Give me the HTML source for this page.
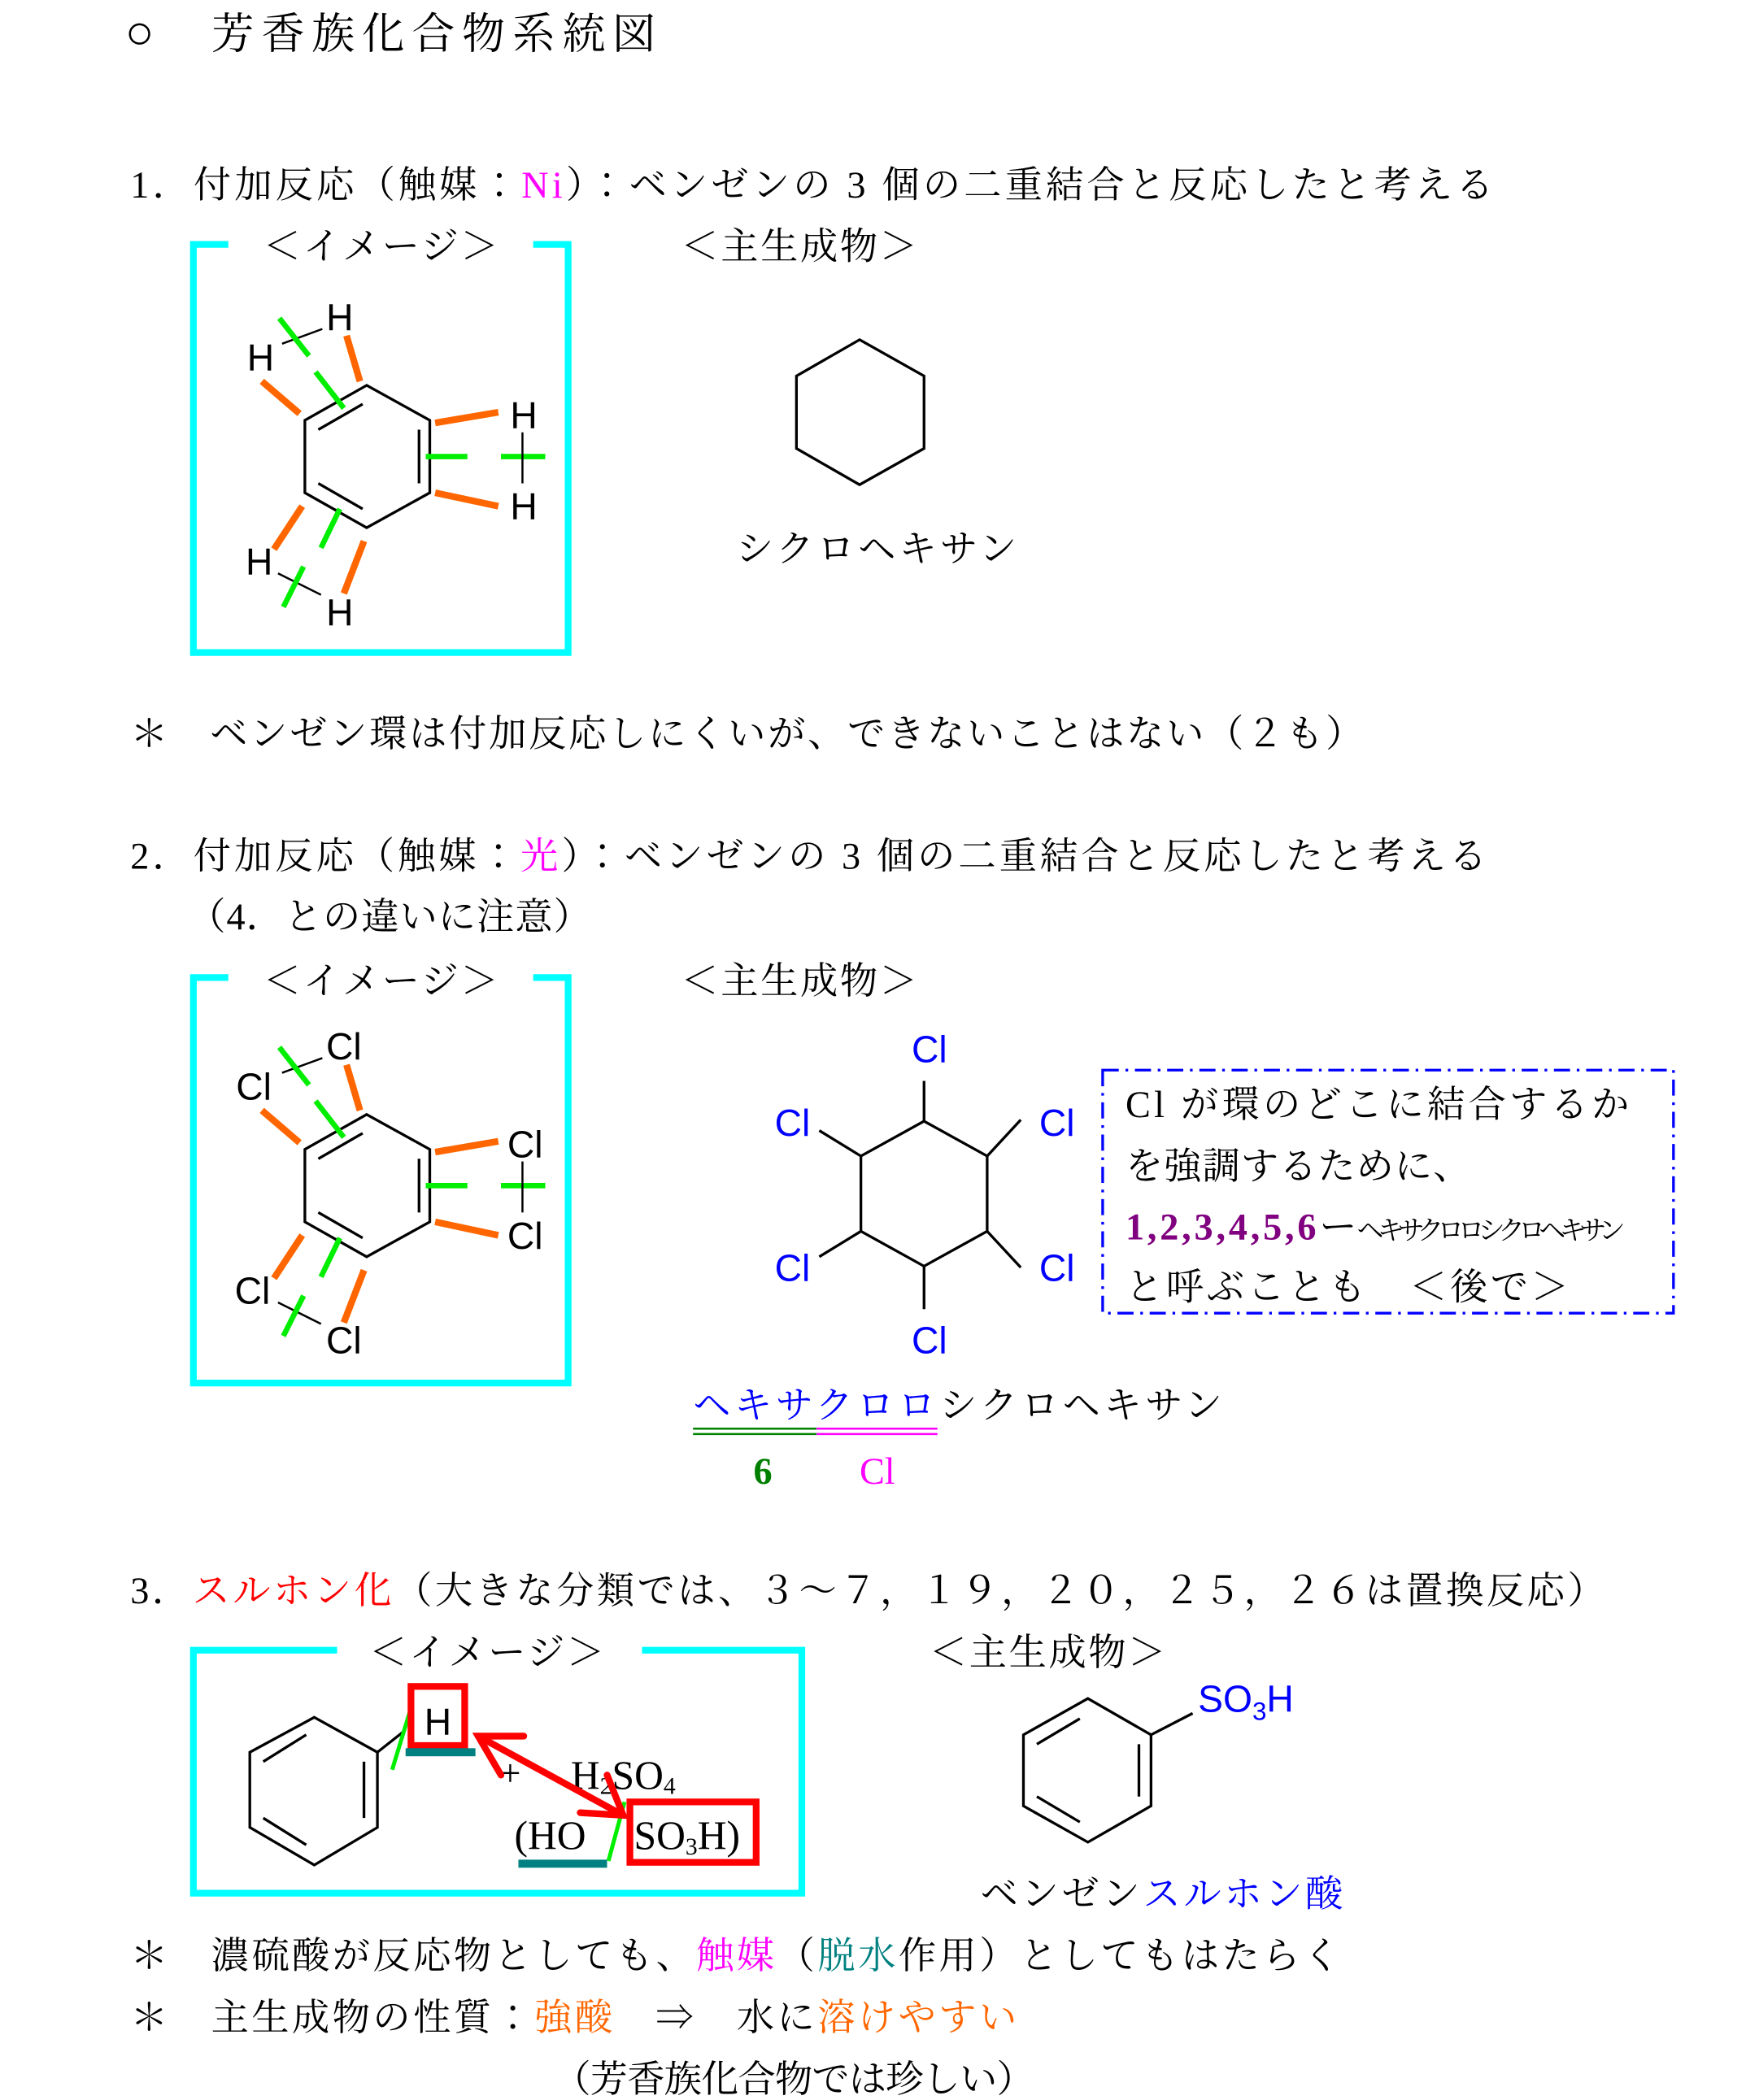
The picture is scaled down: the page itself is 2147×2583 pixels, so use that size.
<!DOCTYPE html>
<html><head><meta charset="utf-8"><style>
html,body{margin:0;padding:0;background:#fff;}
svg{display:block;}
.t{font-family:"Liberation Serif","Noto Serif CJK JP","Noto Serif CJK SC",serif;font-size:28px;}
.s{font-family:"Liberation Sans","DejaVu Sans",sans-serif;font-size:28px;}
</style></head><body>
<svg width="2147" height="2583" viewBox="0 0 1300 1564" preserveAspectRatio="none" xmlns="http://www.w3.org/2000/svg" fill="#000">
<rect width="1300" height="1564" fill="#fff"/>
<text class="t" x="93" y="36" style="font-size:32px" textLength="395"><tspan style="font-size:36px">○</tspan>　芳香族化合物系統図</text>
<text class="t" x="97" y="147" textLength="1015">1．付加反応（触媒：<tspan fill="#ff00ff">Ni</tspan>）：ベンゼンの 3 個の二重結合と反応したと考える</text>
<text class="t" x="196" y="193" textLength="175">＜イメージ＞</text>
<text class="t" x="507" y="193" textLength="176">＜主生成物＞</text>
<polyline points="170,182 144,182 144,486 423,486 423,182 397,182" fill="none" stroke="#00ffff" stroke-width="5"/>

<g id="img1">
<g fill="none" stroke="#000" stroke-width="2">
<polygon points="273,287 320,313 320,367 273,393 227,367 227,313"/>
<line x1="237" y1="320" x2="270" y2="301"/>
<line x1="312" y1="320" x2="312" y2="360"/>
<line x1="237" y1="360" x2="270" y2="379"/>
</g>
<g stroke="#ff6600" stroke-width="5">
<line x1="258" y1="250" x2="268" y2="284"/>
<line x1="195" y1="284" x2="223" y2="308"/>
<line x1="324" y1="315" x2="371" y2="307"/>
<line x1="324" y1="367" x2="371" y2="377"/>
<line x1="225" y1="377" x2="204" y2="409"/>
<line x1="271" y1="403" x2="256" y2="442"/>
</g>
<g stroke="#00ee00" stroke-width="4">
<line x1="235" y1="277" x2="256" y2="304"/>
<line x1="317" y1="340" x2="348" y2="340"/>
<line x1="373" y1="340" x2="406" y2="340"/>
<line x1="253" y1="379" x2="239" y2="408"/>
</g>
</g>
<g stroke="#000" stroke-width="1.5">
<line x1="210" y1="256" x2="240" y2="245"/>
<line x1="389" y1="322" x2="389" y2="360"/>
<line x1="207" y1="427" x2="239" y2="443"/>
</g>
<g stroke="#00ee00" stroke-width="4">
<line x1="208" y1="237" x2="230" y2="265"/>
<line x1="226" y1="422" x2="211" y2="452"/>
</g>
<g class="s" text-anchor="middle">
<text x="253" y="246">H</text><text x="194" y="276">H</text>
<text x="390" y="319">H</text><text x="390" y="387">H</text>
<text x="193" y="428">H</text><text x="253" y="466">H</text>
</g>

<g fill="none" stroke="#000" stroke-width="2">
<polygon points="640,253 688,280 688,334 640,361 593,334 593,280"/>
</g>
<text class="t" x="548" y="418" textLength="209">シクロヘキサン</text>

<text class="t" x="97" y="556" textLength="918">＊　ベンゼン環は付加反応しにくいが、できないことはない（２も）</text>
<text class="t" x="97" y="647" textLength="1010">2．付加反応（触媒：<tspan fill="#ff00ff">光</tspan>）：ベンゼンの 3 個の二重結合と反応したと考える</text>
<text class="t" x="140" y="692" textLength="300">（4．との違いに注意）</text>
<text class="t" x="196" y="740" textLength="175">＜イメージ＞</text>
<text class="t" x="507" y="740" textLength="176">＜主生成物＞</text>
<polyline points="170,728 144,728 144,1030 423,1030 423,728 397,728" fill="none" stroke="#00ffff" stroke-width="5"/>
<use href="#img1" transform="translate(0,543)"/>
<g stroke="#000" stroke-width="1.5">
<line x1="210" y1="799" x2="240" y2="788"/>
<line x1="389" y1="865" x2="389" y2="903"/>
<line x1="207" y1="970" x2="239" y2="986"/>
</g>
<g stroke="#00ee00" stroke-width="4">
<line x1="208" y1="780" x2="230" y2="808"/>
<line x1="226" y1="965" x2="211" y2="995"/>
</g>
<g class="s" text-anchor="middle">
<text x="256" y="789">Cl</text><text x="189" y="819">Cl</text>
<text x="391" y="862">Cl</text><text x="391" y="930">Cl</text>
<text x="188" y="971">Cl</text><text x="256" y="1008">Cl</text>
</g>

<g fill="none" stroke="#000" stroke-width="2">
<polygon points="688,835 735,861 735,917 688,943 641,917 641,861"/>
<line x1="688" y1="835" x2="688" y2="805"/>
<line x1="735" y1="861" x2="760" y2="834"/>
<line x1="641" y1="861" x2="610" y2="842"/>
<line x1="641" y1="917" x2="610" y2="936"/>
<line x1="735" y1="917" x2="760" y2="944"/>
<line x1="688" y1="943" x2="688" y2="975"/>
</g>
<g class="s" text-anchor="middle" fill="#0000ff">
<text x="692" y="791">Cl</text><text x="590" y="846">Cl</text><text x="787" y="846">Cl</text>
<text x="590" y="954">Cl</text><text x="787" y="954">Cl</text><text x="692" y="1008">Cl</text>
</g>
<rect x="821" y="797" width="425" height="181" fill="none" stroke="#0000ff" stroke-width="2" stroke-dasharray="12,5,2,5"/>
<text class="t" x="838" y="832" textLength="375">Cl が環のどこに結合するか</text>
<text class="t" x="838" y="878" textLength="257">を強調するために、</text>
<text class="t" x="838" y="923"><tspan fill="#800080" font-weight="bold" textLength="142">1,2,3,4,5,6</tspan><tspan>ー</tspan><tspan style="font-size:20px" textLength="200">ヘキサクロロシクロヘキサン</tspan></text>
<text class="t" x="838" y="968" textLength="330">と呼ぶことも　＜後で＞</text>

<text class="t" x="516" y="1056" textLength="394"><tspan fill="#0000ff">ヘキサクロロ</tspan>シクロヘキサン</text>
<g stroke-width="1.5">
<line x1="516" y1="1064" x2="608" y2="1064" stroke="#008000"/>
<line x1="516" y1="1068" x2="608" y2="1068" stroke="#008000"/>
<line x1="608" y1="1064" x2="698" y2="1064" stroke="#ff00ff"/>
<line x1="608" y1="1068" x2="698" y2="1068" stroke="#ff00ff"/>
</g>
<text class="t" x="561" y="1105" fill="#008000" font-weight="bold">6</text>
<text class="t" x="640" y="1105" fill="#ff00ff">Cl</text>

<text class="t" x="97" y="1194" textLength="1098">3．<tspan fill="#ff0000">スルホン化</tspan>（大きな分類では、３～７，１９，２０，２５，２６は置換反応）</text>
<text class="t" x="275" y="1240" textLength="175">＜イメージ＞</text>
<text class="t" x="692" y="1240" textLength="176">＜主生成物＞</text>
<polyline points="251,1229 144,1229 144,1410 597,1410 597,1229 478,1229" fill="none" stroke="#00ffff" stroke-width="5"/>

<g fill="none" stroke="#000" stroke-width="2">
<polygon points="234,1279 281,1305 281,1361 234,1389 186,1361 186,1305"/>
<line x1="196" y1="1312" x2="228" y2="1292"/>
<line x1="271" y1="1312" x2="271" y2="1354"/>
<line x1="196" y1="1354" x2="228" y2="1374"/>
<line x1="281" y1="1305" x2="300" y2="1290"/>
</g>
<line x1="306" y1="1272" x2="292" y2="1318" stroke="#00ee00" stroke-width="3"/>
<rect x="306" y="1256" width="40" height="44" fill="none" stroke="#ff0000" stroke-width="5"/>
<text class="s" x="326" y="1292" text-anchor="middle">H</text>
<rect x="302" y="1302" width="52" height="6" fill="#008080"/>
<text class="t" x="372" y="1330">+</text>
<text class="t" x="425" y="1332" style="font-size:30px">H<tspan style="font-size:18px" dy="4">2</tspan><tspan dy="-4">SO</tspan><tspan style="font-size:18px" dy="4">4</tspan></text>
<text class="t" x="383" y="1377" style="font-size:30px">(HO</text>
<line x1="465" y1="1342" x2="453" y2="1386" stroke="#00ee00" stroke-width="3"/>
<rect x="469" y="1342" width="94" height="45" fill="none" stroke="#ff0000" stroke-width="5"/>
<text class="t" x="472" y="1377" style="font-size:30px">SO<tspan style="font-size:18px" dy="4">3</tspan><tspan dy="-4">H)</tspan></text>
<rect x="386" y="1385" width="66" height="6" fill="#008080"/>
<g stroke="#ff0000" stroke-width="5" fill="none" stroke-linecap="round">
<line x1="356" y1="1293" x2="464" y2="1352"/>
<polyline points="390,1293 356,1293 373,1322"/>
<polyline points="432,1350 464,1352 452,1322"/>
</g>

<g fill="none" stroke="#000" stroke-width="2">
<polygon points="810,1265 857,1292 857,1345 810,1372 762,1345 762,1292"/>
<line x1="772" y1="1299" x2="804" y2="1280"/>
<line x1="848" y1="1299" x2="848" y2="1338"/>
<line x1="772" y1="1338" x2="804" y2="1357"/>
<line x1="857" y1="1292" x2="888" y2="1276"/>
</g>
<text class="s" x="892" y="1275" fill="#0000ff">SO<tspan style="font-size:19px" dy="6">3</tspan><tspan dy="-6">H</tspan></text>
<text class="t" x="730" y="1420" textLength="270">ベンゼン<tspan fill="#0000ff">スルホン酸</tspan></text>

<text class="t" x="97" y="1466" textLength="901">＊　濃硫酸が反応物としても、<tspan fill="#ff00ff">触媒</tspan>（<tspan fill="#008080">脱水</tspan>作用）としてもはたらく</text>
<text class="t" x="97" y="1512" textLength="660">＊　主生成物の性質：<tspan fill="#ff6600">強酸</tspan>　⇒　水に<tspan fill="#ff6600">溶けやすい</tspan></text>
<text class="t" x="412" y="1558" textLength="358">（芳香族化合物では珍しい）</text>
</svg>
</body></html>
